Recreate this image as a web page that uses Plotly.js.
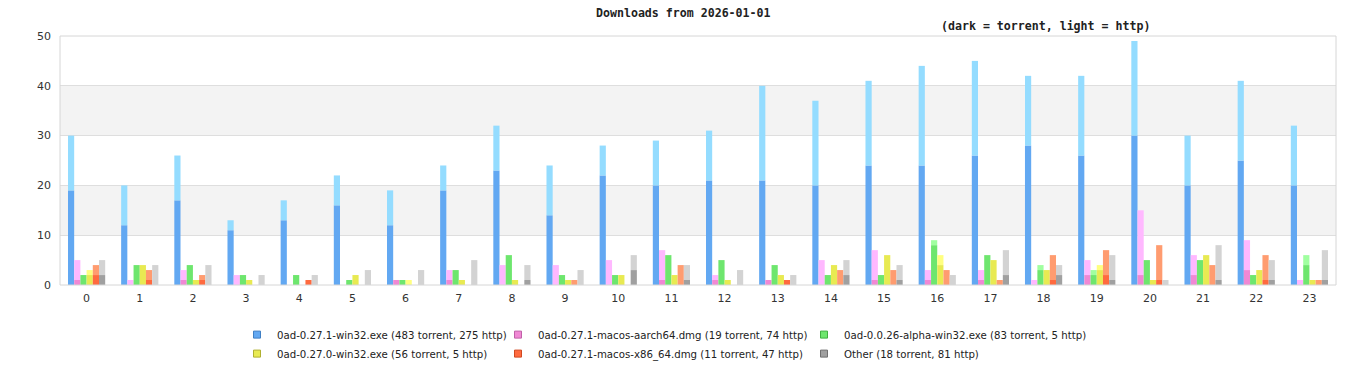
<!DOCTYPE html>
<html><head><meta charset="utf-8">
<script src="https://cdn.plot.ly/plotly-3.0.1.min.js"></script>
<style>html,body{margin:0;padding:0;background:#fff}#chart{width:1366px;height:380px}</style>
</head><body><div id="chart"></div>
<script>
const hours = [0,1,2,3,4,5,6,7,8,9,10,11,12,13,14,15,16,17,18,19,20,21,22,23];
const seriesNames = [
  "0ad-0.27.1-win32.exe (483 torrent, 275 http)",
  "0ad-0.27.1-macos-aarch64.dmg (19 torrent, 74 http)",
  "0ad-0.0.26-alpha-win32.exe (83 torrent, 5 http)",
  "0ad-0.27.0-win32.exe (56 torrent, 5 http)",
  "0ad-0.27.1-macos-x86_64.dmg (11 torrent, 47 http)",
  "Other (18 torrent, 81 http)"
];
const win32Torrent   = [19,12,17,11,13,16,12,19,23,14,22,20,21,21,20,24,24,26,28,26,30,20,25,20];
const win32Http      = [11,8,9,2,4,6,7,5,9,10,6,9,10,19,17,17,20,19,14,16,19,10,16,12];
const aarch64Torrent = [1,0,1,0,0,0,1,1,0,0,0,1,1,1,0,1,1,1,0,2,2,2,3,0];
const aarch64Http    = [4,1,2,2,0,0,0,2,4,4,5,6,1,0,5,6,2,2,1,3,13,4,6,1];
const alphaTorrent   = [2,4,4,2,2,1,1,3,6,2,2,6,5,4,2,2,8,6,3,2,5,5,2,4];
const alphaHttp      = [0,0,0,0,0,0,0,0,0,0,0,0,0,0,0,0,1,0,1,1,0,0,0,2];
const w0270Torrent   = [2,4,1,1,0,2,0,1,1,1,2,2,1,2,4,6,4,5,3,3,1,6,3,1];
const w0270Http      = [1,0,0,0,0,0,1,0,0,0,0,0,0,0,0,0,2,0,0,1,0,0,0,0];
const x86Torrent     = [2,1,1,0,1,0,0,0,0,0,0,0,0,1,0,0,0,0,1,2,1,0,1,0];
const x86Http        = [2,2,1,0,0,0,0,0,0,1,0,4,0,0,3,3,3,1,5,5,7,4,5,1];
const otherTorrent   = [2,0,0,0,0,0,0,0,1,0,3,1,0,0,2,1,0,2,2,1,0,1,1,1];
const otherHttp      = [3,4,4,2,2,3,3,5,3,3,3,3,3,2,3,3,2,5,2,5,1,7,4,6];
const yTickVals = [0,10,20,30,40,50];

const torrentSeries = [win32Torrent, aarch64Torrent, alphaTorrent, w0270Torrent, x86Torrent, otherTorrent];
const httpSeries = [win32Http, aarch64Http, alphaHttp, w0270Http, x86Http, otherHttp];
const darkColors  = ["#62a8f2","#f088d4","#6ee66e","#e8ea52","#ff6a3f","#a0a0a0"];
const lightColors = ["#94dcff","#ffb8ff","#a0ffa0","#ffff80","#ff9c70","#d3d3d3"];
const borderColors = ["#3f7fc4","#c060a8","#40b040","#b0b030","#d04820","#707070"];

const traces = [];
for (let i = 0; i < 6; i++) {
  traces.push({type:'bar', x:hours, y:torrentSeries[i], offsetgroup:'g'+i, marker:{color:darkColors[i], line:{width:0}}, showlegend:false, hoverinfo:'skip'});
  traces.push({type:'bar', x:hours, y:httpSeries[i], base:torrentSeries[i], offsetgroup:'g'+i, marker:{color:lightColors[i], line:{width:0}}, showlegend:false, hoverinfo:'skip'});
}
const legendOrder = [0,3,1,4,2,5];
const legendIds = ['legend','legend','legend2','legend2','legend3','legend3'];
legendOrder.forEach((i, k) => {
  traces.push({type:'scatter', x:[null], y:[null], mode:'markers', name:seriesNames[i],
    legend: legendIds[k],
    marker:{symbol:'square', size:7, color:darkColors[i], line:{color:borderColors[i], width:1}}, hoverinfo:'skip'});
});

const legendFont = {family:'DejaVu Sans', size:10.2, color:'#222'};
const legBase = {orientation:'v', yanchor:'top', y:-0.141, xanchor:'left', font:legendFont, bgcolor:'rgba(0,0,0,0)', borderwidth:0, itemwidth:30, tracegroupgap:0};

const layout = {
  width:1366, height:380,
  margin:{l:60, r:30, t:36, b:95, pad:0, autoexpand:false},
  paper_bgcolor:'#fff', plot_bgcolor:'#fff',
  barmode:'group', bargap:0.3, bargroupgap:0,
  showlegend:true,
  xaxis:{range:[-0.5,23.5], tickvals:hours, ticktext:hours.map(String), showgrid:false, zeroline:false,
    showline:false, ticks:'', ticklabelstandoff:5, tickfont:{family:'DejaVu Sans', size:11, color:'#333'}},
  yaxis:{range:[0,50], tickvals:yTickVals, showgrid:true, gridcolor:'#dedede', gridwidth:1, zeroline:false,
    showline:false, ticks:'', ticklabelstandoff:8, tickfont:{family:'DejaVu Sans', size:11, color:'#333'}},
  legend:Object.assign({}, legBase, {x:(237-60)/1276}),
  legend2:Object.assign({}, legBase, {x:(498-60)/1276}),
  legend3:Object.assign({}, legBase, {x:(804-60)/1276}),
  shapes:[
    {type:'rect', xref:'paper', yref:'y', x0:0, x1:1, y0:10, y1:20, fillcolor:'#f3f3f3', line:{width:0}, layer:'below'},
    {type:'rect', xref:'paper', yref:'y', x0:0, x1:1, y0:30, y1:40, fillcolor:'#f3f3f3', line:{width:0}, layer:'below'},
    {type:'rect', xref:'paper', yref:'paper', x0:0, x1:1, y0:0, y1:1, line:{color:'#d6d6d6', width:1}, fillcolor:'rgba(0,0,0,0)', layer:'above'}
  ],
  annotations:[
    {text:'<b>Downloads from 2026-01-01</b>', xref:'paper', yref:'paper', x:(683-60)/1276, y:1, yshift:23, xanchor:'center', yanchor:'middle', showarrow:false,
      font:{family:'DejaVu Sans Mono', size:11.6, color:'#222'}},
    {text:'<b>(dark = torrent, light = http)</b>', xref:'paper', yref:'paper', x:(1152-60)/1276, y:1, yshift:10, xanchor:'right', yanchor:'middle', showarrow:false,
      font:{family:'DejaVu Sans Mono', size:11.6, color:'#222'}}
  ]
};
Plotly.newPlot('chart', traces, layout, {staticPlot:true, displayModeBar:false});
</script></body></html>
